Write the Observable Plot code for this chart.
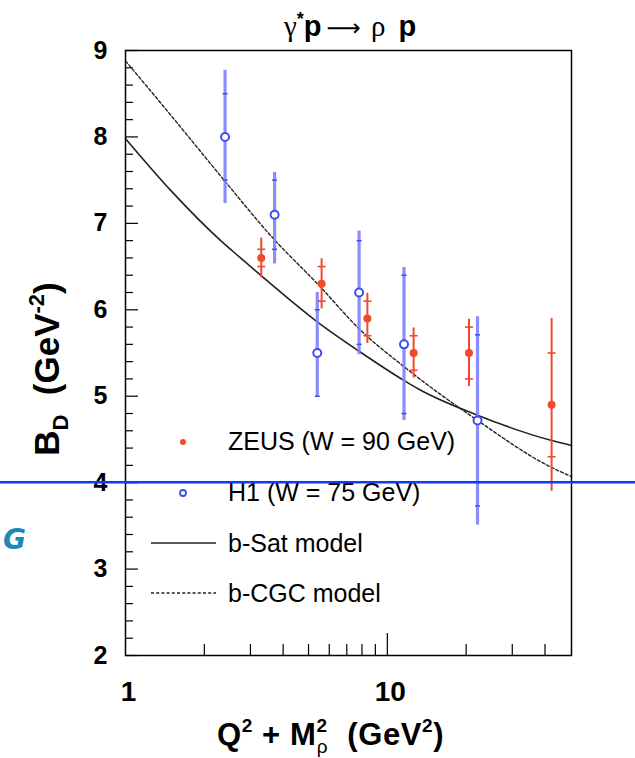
<!DOCTYPE html>
<html>
<head>
<meta charset="utf-8">
<script src="https://cdn.jsdelivr.net/npm/d3@7"></script>
<script src="https://cdn.jsdelivr.net/npm/@observablehq/plot@0.6"></script>
<style>
  html, body { margin: 0; padding: 0; background: white; }
  #chart { width: 635px; height: 758px; position: relative; }
</style>
</head>
<body>
<div id="chart"></div>
<script>
// ---------- data ----------
// ZEUS (W = 90 GeV)
const zeusX    = [3.30, 5.61, 8.39, 12.6, 20.5, 42.4];
const zeusY    = [6.60, 6.30, 5.90, 5.50, 5.50, 4.90];
const zeusStat = [0.10, 0.20, 0.20, 0.20, 0.30, 0.60];
const zeusTot  = [0.23, 0.29, 0.29, 0.29, 0.39, 1.00];

// H1 (W = 75 GeV)
const h1X     = [2.40, 3.71, 5.40, 7.80, 11.58, 22.1];
const h1Y     = [8.00, 7.10, 5.50, 6.20, 5.60, 4.72];
const h1Stat  = [0.50, 0.40, 0.50, 0.60, 0.80, 0.99];
const h1TotHi = [0.77, 0.49, 0.70, 0.71, 0.89, 1.20];
const h1TotLo = [0.77, 0.57, 0.51, 0.72, 0.88, 1.21];

// model curves
const satX = [1, 1.5, 2.31, 2.75, 3.28, 4.3, 5.4, 7.8, 11.6, 13.2, 22.1, 42.1, 50.5];
const satY = [7.98, 7.37, 6.80, 6.60, 6.40, 6.10, 5.86, 5.52, 5.18, 5.08, 4.78, 4.49, 4.43];
const cgcX = [1, 1.5, 2.38, 3.58, 5.57, 7.8, 11.6, 22.1, 42.1, 50.5];
const cgcY = [8.88, 8.24, 7.50, 6.86, 6.26, 5.78, 5.34, 4.72, 4.18, 4.07];

// axes
const xDomain = [1, 50.5];
const yDomain = [2, 9];
const xTickLabels = [1, 10];
const xMajorTicks = [10];
const xMinorTicks = [2, 3, 4, 5, 6, 7, 8, 9, 20, 30, 40];
const yTickLabels = [2, 3, 4, 5, 6, 7, 8, 9];
const yMinorTicks = [2.2, 2.4, 2.6, 2.8, 3.2, 3.4, 3.6, 3.8, 4.2, 4.4, 4.6, 4.8,
                     5.2, 5.4, 5.6, 5.8, 6.2, 6.4, 6.6, 6.8, 7.2, 7.4, 7.6, 7.8,
                     8.2, 8.4, 8.6, 8.8];

const legendItems = ["ZEUS (W = 90 GeV)", "H1 (W = 75 GeV)", "b-Sat model", "b-CGC model"];

// ---------- tables ----------
const zeus = zeusX.map((x, i) => ({x, y: zeusY[i], s: zeusStat[i], t: zeusTot[i]}));
const h1 = h1X.map((x, i) => ({x, y: h1Y[i], s: h1Stat[i], hi: h1TotHi[i], lo: h1TotLo[i]}));
const sat = satX.map((x, i) => ({x, y: satY[i]}));
const cgc = cgcX.map((x, i) => ({x, y: cgcY[i]}));

// ---------- layout ----------
const W = 635, H = 758, mL = 125, mR = 64, mT = 50, mB = 103;
const fw = W - mL - mR, fh = H - mT - mB;

const hbar = {
  draw(ctx, size) {
    const r = Math.sqrt(size / Math.PI);
    ctx.moveTo(-r, 0);
    ctx.lineTo(r, 0);
  }
};

const RED = "#ef4a2c";
const BLUE_BAR = "#8080ff";
const BLUE = "#3a4ff0";
const SANS = "Liberation Sans, Arial, sans-serif";
const SERIF = "Liberation Serif, DejaVu Serif, serif";

const plot = Plot.plot({
  width: W, height: H,
  marginLeft: mL, marginRight: mR, marginTop: mT, marginBottom: mB,
  x: {type: "log", domain: xDomain, axis: null},
  y: {domain: yDomain, axis: null},
  style: {fontFamily: SANS, background: "white", overflow: "visible"},
  marks: [
    // ticks inside the frame
    Plot.tickY(yTickLabels, {y: d => d, insetRight: fw - 13, stroke: "black", strokeWidth: 1.2}),
    Plot.tickY(yMinorTicks, {y: d => d, insetRight: fw - 8, stroke: "black", strokeWidth: 1.2}),
    Plot.tickX(xMajorTicks, {x: d => d, insetTop: fh - 22, stroke: "black", strokeWidth: 1.2}),
    Plot.tickX(xMinorTicks, {x: d => d, insetTop: fh - 11, stroke: "black", strokeWidth: 1.2}),

    // tick labels
    Plot.text(yTickLabels, {x: xDomain[0], y: d => d, text: d => String(d), dx: -18,
      textAnchor: "end", fontSize: 25, fontWeight: "bold", fill: "black"}),
    Plot.text(xTickLabels, {x: d => d, y: yDomain[0], text: d => String(d), dy: 37, dx: 3,
      fontSize: 28, fontWeight: "bold", fill: "black"}),

    // model curves
    Plot.line(sat, {x: "x", y: "y", curve: "monotone-x", stroke: "#222", strokeWidth: 1.6}),
    Plot.line(cgc, {x: "x", y: "y", curve: "monotone-x", stroke: "#222", strokeWidth: 1.4,
      strokeDasharray: "3,2.2"}),

    // H1 error bars
    Plot.ruleX(h1, {x: "x", y1: d => d.y - d.lo, y2: d => d.y + d.hi, stroke: BLUE_BAR,
      strokeWidth: 3.2, strokeOpacity: 0.9}),
    Plot.dot(h1, {x: "x", y: d => d.y + d.s, symbol: hbar, r: 2.5, stroke: BLUE, strokeWidth: 1.5}),
    Plot.dot(h1, {x: "x", y: d => d.y - d.s, symbol: hbar, r: 2.5, stroke: BLUE, strokeWidth: 1.5}),
    Plot.dot(h1, {x: "x", y: "y", r: 4, stroke: BLUE, strokeWidth: 2, fill: "white"}),

    // ZEUS error bars
    Plot.ruleX(zeus, {x: "x", y1: d => d.y - d.t, y2: d => d.y + d.t, stroke: RED, strokeWidth: 2}),
    Plot.dot(zeus, {x: "x", y: d => d.y + d.s, symbol: hbar, r: 4, stroke: RED, strokeWidth: 1.6}),
    Plot.dot(zeus, {x: "x", y: d => d.y - d.s, symbol: hbar, r: 4, stroke: RED, strokeWidth: 1.6}),
    Plot.dot(zeus, {x: "x", y: "y", r: 4, fill: RED, stroke: "none"}),

    Plot.frame({stroke: "black", strokeWidth: 1.5})
  ]
});

document.getElementById("chart").appendChild(plot);

const svg = d3.select(plot);
const sy = plot.scale("y");

// ---------- title ----------
const title = svg.append("text")
  .attr("x", 284).attr("y", 36)
  .attr("text-anchor", "start")
  .attr("font-family", SANS)
  .attr("font-size", 29)
  .attr("fill", "black");
title.append("tspan").attr("font-family", SERIF).text("γ");
title.append("tspan").attr("font-size", 18).attr("dy", -11).attr("font-weight", "bold").text("*");
title.append("tspan").attr("dy", 11).attr("font-weight", "bold").text("p");
title.append("tspan").attr("font-family", "DejaVu Sans, sans-serif").attr("font-size", 24)
  .attr("font-weight", "normal").attr("dx", 5).text("⟶");
title.append("tspan").attr("font-family", SERIF).attr("dx", 10).text("ρ");
title.append("tspan").attr("font-weight", "bold").attr("dx", 13).text("p");

// ---------- x-axis title ----------
const xt = svg.append("text")
  .attr("x", 217).attr("y", 745)
  .attr("text-anchor", "start")
  .attr("font-family", SANS)
  .attr("letter-spacing", 0.6)
  .attr("font-size", 31).attr("font-weight", "bold").attr("fill", "black");
xt.append("tspan").text("Q");
xt.append("tspan").attr("font-size", 19).attr("dy", -13).text("2");
xt.append("tspan").attr("dy", 13).text(" + M");
xt.append("tspan").attr("font-size", 19).attr("dy", -13).text("2");
xt.append("tspan").attr("font-size", 19).attr("font-weight", "normal").attr("dx", -11).attr("dy", 21).text("ρ");
xt.append("tspan").attr("dy", -8).attr("dx", 10).text(" (GeV");
xt.append("tspan").attr("font-size", 19).attr("dy", -13).text("2");
xt.append("tspan").attr("dy", 13).text(")");

// ---------- y-axis title ----------
const yt = svg.append("text")
  .attr("transform", "translate(59,369) rotate(-90)")
  .attr("text-anchor", "middle")
  .attr("font-family", SANS)
  .attr("font-size", 35).attr("font-weight", "bold").attr("fill", "black");
yt.append("tspan").text("B");
yt.append("tspan").attr("font-size", 22).attr("dy", 9).text("D");
yt.append("tspan").attr("dy", -9).text("  (GeV");
yt.append("tspan").attr("font-size", 22).attr("dy", -15).text("-2");
yt.append("tspan").attr("dy", 15).text(")");

// ---------- legend ----------
const lg = svg.append("g").attr("font-family", SANS)
  .attr("font-size", 25).attr("fill", "black").attr("text-anchor", "start");
lg.append("circle").attr("cx", 183).attr("cy", 442).attr("r", 3).attr("fill", RED);
lg.append("circle").attr("cx", 183).attr("cy", 493).attr("r", 3).attr("fill", "white")
  .attr("stroke", BLUE).attr("stroke-width", 1.8);
lg.append("line").attr("x1", 151).attr("x2", 216).attr("y1", 543).attr("y2", 543)
  .attr("stroke", "#222").attr("stroke-width", 1.6);
lg.append("line").attr("x1", 151).attr("x2", 216).attr("y1", 593).attr("y2", 593)
  .attr("stroke", "#222").attr("stroke-width", 1.4).attr("stroke-dasharray", "3,2.2");
const legY = [450, 501, 552, 602];
legendItems.forEach((t, i) => {
  lg.append("text").attr("x", 228).attr("y", legY[i]).attr("text-anchor", "start").text(t);
});

// ---------- overlay artefacts from the slide ----------
const y4 = sy.apply(4);
svg.append("line").attr("x1", 0).attr("x2", W).attr("y1", y4).attr("y2", y4)
  .attr("stroke", "#0a3cff").attr("stroke-width", 2.5);
svg.append("text").attr("x", 3).attr("y", 549).attr("text-anchor", "start")
  .attr("font-family", "DejaVu Sans, sans-serif").attr("font-style", "italic")
  .attr("font-weight", "bold").attr("font-size", 28).attr("fill", "#1a88b8").text("G");
</script>
</body>
</html>
